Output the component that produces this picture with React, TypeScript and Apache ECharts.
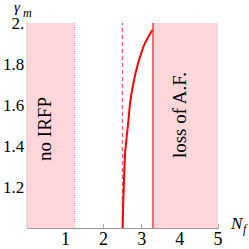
import React, { useEffect, useRef } from "react";
import * as echarts from "echarts";

const xTicks = [0, 1, 2, 3, 4, 5];
const yTicks = [1.0, 1.2, 1.4, 1.6, 1.8, 2.0];
const curveX = [2.5, 2.505, 2.515, 2.53, 2.565, 2.61, 2.65, 2.7, 2.79, 2.894, 3.065, 3.28];
const curveY = [1.0, 1.05, 1.12, 1.2, 1.366, 1.45, 1.519, 1.616, 1.714, 1.795, 1.893, 1.966];
const noIrfpEnd = 1.22;
const dashedX = 2.5;
const lossStart = 3.28;
const xMax = 5;
const regionLabels = ["no IRFP", "loss of A.F."];

const SERIF = "'Liberation Serif', 'DejaVu Serif', serif";

export default function App() {
  const ref = useRef<HTMLDivElement>(null);
  useEffect(() => {
    if (!ref.current) return;
    const chart = echarts.init(ref.current, undefined, { renderer: "svg" });
    const pink = "#ffd7db";
    const txt = (text: string, x: number, y: number, size: number, italic: boolean, extra: any = {}) => ({
      type: "text",
      x,
      y,
      z: 100,
      rotation: extra.rotation || 0,
      style: {
        text,
        fontFamily: SERIF,
        fontSize: size,
        lineHeight: extra.lineHeight || size,
        fontStyle: italic ? "italic" : "normal",
        fill: "#000",
        align: extra.align || "left",
        verticalAlign: "middle",
      },
    });
    chart.setOption({
      animation: false,
      grid: { left: 25, right: 31, top: 23, bottom: 21 },
      xAxis: {
        type: "value",
        min: xTicks[0],
        max: xTicks[xTicks.length - 1],
        interval: 1,
        axisLine: { lineStyle: { color: "#999" } },
        axisTick: { inside: true, length: 4, lineStyle: { color: "#aaa" } },
        axisLabel: {
          color: "#000",
          fontFamily: SERIF,
          fontSize: 18,
          lineHeight: 14,
          margin: 4,
          formatter: (v: number) => (v === 0 ? "" : String(v)),
        },
        splitLine: { show: false },
      },
      yAxis: {
        type: "value",
        min: yTicks[0],
        max: yTicks[yTicks.length - 1],
        interval: 0.2,
        axisLine: { show: true, lineStyle: { color: "#999" } },
        axisTick: { show: true, inside: true, length: 3, lineStyle: { color: "#aaa" } },
        axisLabel: {
          color: "#000",
          fontFamily: SERIF,
          fontSize: 17,
          lineHeight: 14,
          margin: 3,
          formatter: (v: number) =>
            Math.abs(v - 1) < 1e-6 ? "" : Math.abs(v - 2) < 1e-6 ? "2." : v.toFixed(1),
        },
        splitLine: { show: false },
      },
      series: [
        {
          type: "line",
          data: curveX.map((x, i) => [x, curveY[i]]),
          smooth: 0.3,
          showSymbol: false,
          lineStyle: { color: "#ff0000", width: 2 },
          z: 5,
          markArea: {
            silent: true,
            itemStyle: { color: pink },
            label: { show: false },
            data: [
              [{ xAxis: 0 }, { xAxis: noIrfpEnd }],
              [{ xAxis: lossStart }, { xAxis: xMax }],
            ],
          },
          markLine: {
            silent: true,
            symbol: "none",
            label: { show: false },
            data: [
              { xAxis: noIrfpEnd, lineStyle: { color: "#ff9aa6", type: "dotted", width: 1 } },
              { xAxis: dashedX, lineStyle: { color: "#f05a70", type: [4, 3], width: 1.3 } },
              { xAxis: lossStart, lineStyle: { color: "#ff6670", type: "solid", width: 2 } },
            ],
          },
        },
      ],
      graphic: [
        txt(regionLabels[0], 44, 129, 19, false, { rotation: Math.PI / 2, align: "center" }),
        txt(regionLabels[1], 179, 115, 19, false, { rotation: Math.PI / 2, align: "center" }),
        txt("γ", 14, 7, 15, true, { lineHeight: 13 }),
        txt("m", 23, 12.5, 12, true, { lineHeight: 8 }),
        txt("N", 231, 223, 17, true, { lineHeight: 13 }),
        txt("f", 243, 229, 12, true, { lineHeight: 10 }),
      ],
    });
    return () => chart.dispose();
  }, []);
  return <div ref={ref} style={{ width: 249, height: 249, position: "absolute", left: 0, top: 0 }} />;
}
